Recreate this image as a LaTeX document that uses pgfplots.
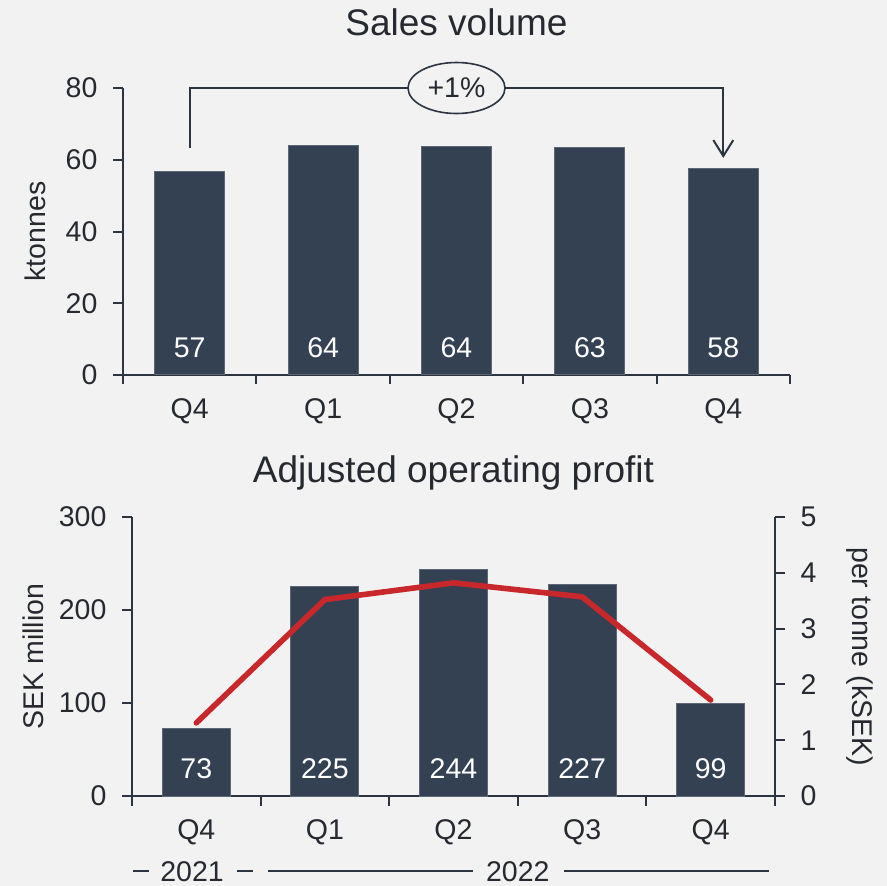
\documentclass[border=0pt]{standalone}
\usepackage{pgfplots}
\pgfplotsset{compat=1.18}
\usepackage{fontspec}
\setmainfont{Liberation Sans}
\usetikzlibrary{arrows.meta,shapes.geometric}
\definecolor{bg}{HTML}{F2F2F2}
\definecolor{barc}{HTML}{344152}
\definecolor{axc}{HTML}{2B3440}
\definecolor{txt}{HTML}{262A30}
\definecolor{redc}{HTML}{C8282B}
\newcommand\tf{\fontsize{14.25}{17}\selectfont}
\newcommand\ttf{\fontsize{18.5}{22}\selectfont}
\pgfplotsset{
  mystyle/.style={
    scale only axis,
    /pgf/number format/assume math mode=true,
    tick label style={font=\tf, text=txt},
    xticklabel style={yshift=-3.75pt},
    axis line style={draw=axc, line width=1pt},
    tick style={draw=axc, line width=1pt},
    tick align=outside,
    major tick length=4.75pt,
    xmin=-0.5, xmax=4.5,
    xtick={-0.5,0.5,1.5,2.5,3.5,4.5},
    xticklabels={Q4,Q1,Q2,Q3,Q4},
    x tick label as interval,
    clip=false,
  },
  barstyle/.style={
    ybar, fill=barc, draw=barc!80!white, line width=0.5pt,
    visualization depends on=rawy\as\rawy,
    nodes near coords={\pgfmathprintnumber[fixed,precision=0]{\pgfplotspointmeta}},
    every node near coord/.append style={shift={(axis direction cs:0,-\rawy)}, anchor=center, yshift=13.5pt, text=white, font=\tf},
  },
}
\begin{document}
\begin{tikzpicture}
\fill[bg] (0,0) rectangle (443.5pt,-443pt);
\useasboundingbox (0,0) rectangle (443.5pt,-443pt);
% ---------- top: sales volume
\begin{axis}[mystyle, at={(61.5pt,-187.5pt)}, anchor=south west,
  width=333.5pt, height=143.5pt,
  ymin=0, ymax=80, ytick={0,20,...,80},
  yticklabel style={xshift=-4.5pt},
  axis x line*=bottom, axis y line*=left,
  ylabel={ktonnes},
  every axis y label/.style={at={(axis description cs:0,0.5)}, anchor=center, xshift=-44pt, rotate=90, font=\tf, text=txt},
  title={Sales volume},
  every axis title/.style={at={(axis description cs:0.5,1)}, anchor=center, yshift=33pt, font=\ttf, text=txt},
]
\addplot[barstyle, bar width=35pt] coordinates {(0,56.8) (1,63.9) (2,63.7) (3,63.4) (4,57.7)};
\draw[axc, line width=1pt, -{Straight Barb[length=8pt,width=10pt,line width=1pt]}]
  (axis cs:0,63.3) -- (axis cs:0,80) -- (axis cs:4,80) -- (axis cs:4,60.5);
\node[draw=axc, line width=0.8pt, ellipse, fill=bg, font=\tf, text=txt,
  minimum width=48.5pt, minimum height=25.5pt, inner sep=0pt] at (axis cs:2,80) {+1\%};
\end{axis}
% ---------- bottom: adjusted operating profit
\begin{axis}[mystyle, at={(66pt,-398pt)}, anchor=south west,
  width=321.5pt, height=139.5pt,
  ymin=0, ymax=300, ytick={0,100,200,300},
  yticklabel style={xshift=-4.5pt},
  axis x line*=bottom, axis y line*=left,
  ylabel={SEK million},
  every axis y label/.style={at={(axis description cs:0,0.5)}, anchor=center, xshift=-49.5pt, rotate=90, font=\tf, text=txt},
  title={Adjusted operating profit},
  every axis title/.style={at={(axis description cs:0.5,1)}, anchor=center, yshift=22pt, font=\ttf, text=txt},
]
\addplot[barstyle, bar width=34pt] coordinates {(0,73) (1,225) (2,244) (3,227) (4,99)};
\draw[axc, line width=0.75pt] ([yshift=-37.5pt]axis cs:-0.49,0) -- ([yshift=-37.5pt]axis cs:-0.37,0);
\node[font=\tf, text=txt] at ([yshift=-37.8pt]axis cs:-0.033,0) {2021};
\draw[axc, line width=0.75pt] ([yshift=-37.5pt]axis cs:0.32,0) -- ([yshift=-37.5pt]axis cs:0.44,0);
\draw[axc, line width=0.75pt] ([yshift=-37.5pt]axis cs:0.56,0) -- ([yshift=-37.5pt]axis cs:2.15,0);
\node[font=\tf, text=txt] at ([yshift=-37.8pt]axis cs:2.5,0) {2022};
\draw[axc, line width=0.75pt] ([yshift=-37.5pt]axis cs:2.86,0) -- ([yshift=-37.5pt]axis cs:4.45,0);
\end{axis}
\begin{axis}[mystyle, at={(66pt,-398pt)}, anchor=south west,
  width=321.5pt, height=139.5pt,
  ymin=0, ymax=5, ytick={0,1,...,5},
  yticklabel style={xshift=4.5pt},
  axis x line=none, axis y line*=right,
  ylabel={per tonne (kSEK)},
  every axis y label/.style={at={(axis description cs:1,0.5)}, anchor=center, xshift=42.5pt, rotate=-90, font=\tf, text=txt},
]
\addplot[redc, line width=2.8pt, line cap=round, line join=round] coordinates {(0,1.31) (1,3.52) (2,3.82) (3,3.57) (4,1.72)};
\end{axis}
\end{tikzpicture}
\end{document}
